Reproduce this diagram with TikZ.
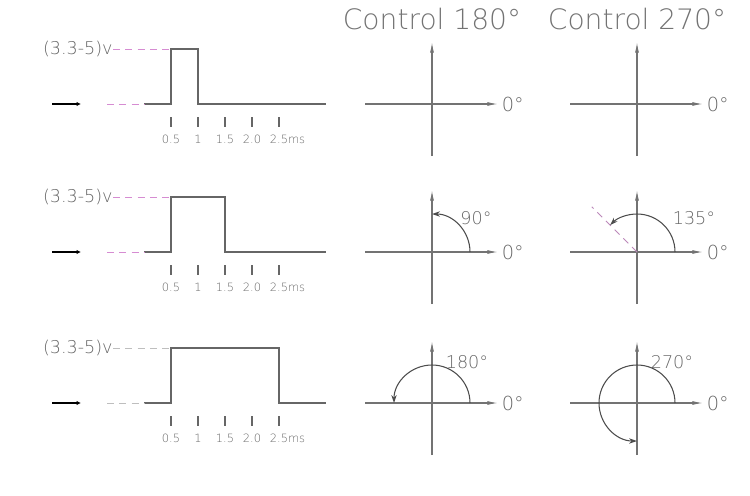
\documentclass[tikz,border=0pt]{standalone}
\usepackage{fontspec}
\usepackage{tikz}
\usetikzlibrary{arrows.meta}
\newfontfamily\thinfont{DejaVu Sans ExtraLight}
\definecolor{pinkguide}{RGB}{214,140,210}
\definecolor{grayguide}{RGB}{190,190,190}
\tikzstyle{wave}=[draw=black!60,line width=0.6pt]
\tikzstyle{axis}=[draw=black!55,line width=0.6pt,-{Latex[length=6pt,width=2.2pt]}]
\tikzstyle{sweep}=[draw=black!70,line width=0.6pt,-{Stealth[length=4.5pt,width=3pt]}]
\tikzstyle{guide}=[dash pattern=on 4pt off 3pt,line width=0.5pt]
\tikzstyle{pin}=[draw=black,line width=0.8pt,-{Latex[length=2.5pt,width=2.5pt]}]
\tikzstyle{lbl}=[text=black!60,inner sep=0pt,font=\thinfont\fontsize{10}{12}\selectfont]
\tikzstyle{zero}=[text=black!60,inner sep=0pt,font=\thinfont\fontsize{11}{13}\selectfont]
\tikzstyle{tick}=[text=black!60,inner sep=0pt,font=\thinfont\fontsize{6.5}{8}\selectfont]
\tikzstyle{title}=[text=black!55,inner sep=0pt,font=\thinfont\fontsize{16}{19}\selectfont]

\begin{document}
\begin{tikzpicture}[x=0.02cm,y=0.02cm]
\useasboundingbox (0,0) rectangle (750,495);
\node (t1) [title] at (432,476) {Control 180°};
\node (t2) [title] at (637,476) {Control 270°};
\foreach \n/\b/\e/\c in {1/391/198/pinkguide, 2/243/225/pinkguide, 3/92/279/grayguide} {
  % pulse
  \coordinate (s\n) at (144,\b);
  \coordinate (r\n) at (171,\b);
  \coordinate (R\n) at (171,\b+55);
  \coordinate (F\n) at (\e,\b+55);
  \coordinate (f\n) at (\e,\b);
  \coordinate (z\n) at (326,\b);
  \draw [wave] (s\n) -- (r\n) -- (R\n) -- (F\n) -- (f\n) -- (z\n);
  \node (v\n) [lbl,anchor=east] at (113,\b+55) {(3.3-5)v};
  \draw [guide,draw=\c] (v\n.east) -- (R\n);
  \coordinate (g\n) at (107,\b);
  \draw [guide,draw=\c] (g\n) -- (s\n);
  \coordinate (p\n) at (52,\b);
  \coordinate (q\n) at (81,\b);
  \draw [pin] (p\n) -- (q\n);
  \foreach \x/\t in {171/0.5, 198/1, 225/1.5, 252/2.0, 279/2.5\rlap{ms}} {
    \draw [wave] (\x,\b-13) -- (\x,\b-23);
    \node [tick] at (\x,\b-35) {\t};
  }
  % axes
  \foreach \m/\o in {a/432, b/637} {
    \coordinate (o\m\n) at (\o,\b);
    \coordinate (w\m\n) at (\o-67,\b);
    \coordinate (e\m\n) at (\o+66,\b);
    \coordinate (d\m\n) at (\o,\b-52);
    \coordinate (u\m\n) at (\o,\b+62);
    \draw [axis] (w\m\n) -- (e\m\n);
    \draw [axis] (d\m\n) -- (u\m\n);
    \node (z\m\n) [zero,anchor=west] at ([xshift=2pt]e\m\n) {0°};
  }
}
% sweeps
\draw [sweep] ([xshift=38*0.02cm]oa2) arc (0:90:38);
\node (k1) [lbl] at (476,277) {90°};
\draw [pinkguide!70!gray,guide] (ob2) -- ++(135:64);
\draw [sweep] ([xshift=38*0.02cm]ob2) arc (0:135:38);
\node (k2) [lbl] at (694,277) {135°};
\draw [sweep] ([xshift=38*0.02cm]oa3) arc (0:180:38);
\node (k3) [lbl] at (467,133) {180°};
\draw [sweep] ([xshift=38*0.02cm]ob3) arc (0:270:38);
\node (k4) [lbl] at (672,133) {270°};
\end{tikzpicture}
\end{document}
